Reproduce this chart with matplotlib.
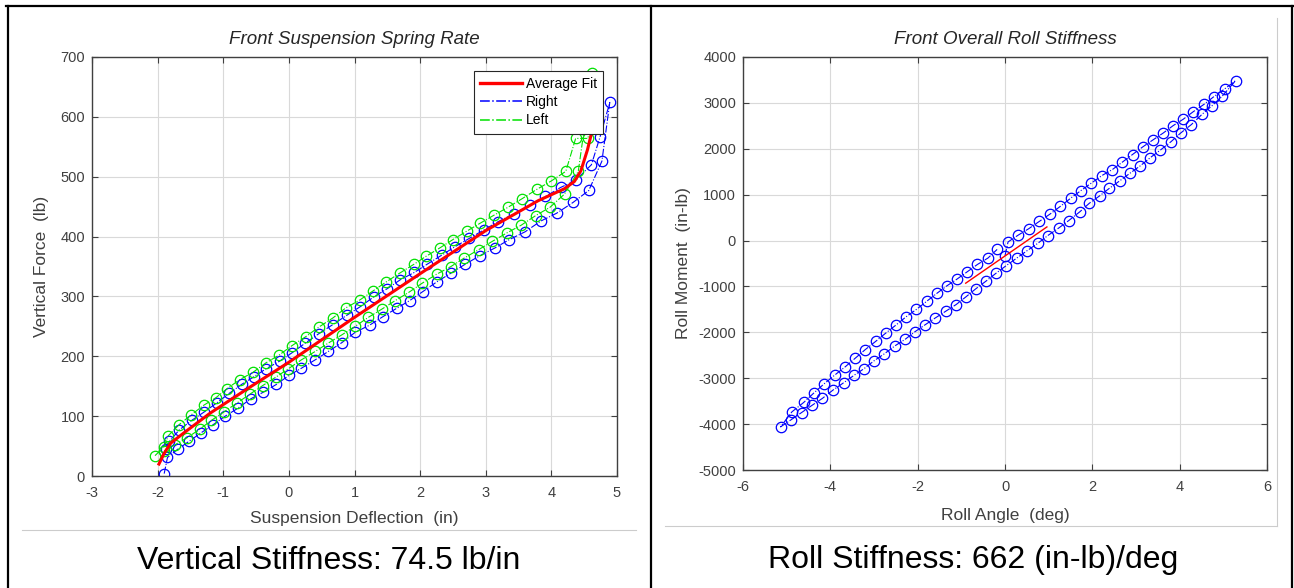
import matplotlib
matplotlib.use('Agg')
import matplotlib.pyplot as plt
from matplotlib.lines import Line2D

plt.rcParams['font.family'] = ['Liberation Sans', 'DejaVu Sans']
plt.rcParams['axes.unicode_minus'] = False

# ---- left chart: spring rate (hysteresis loops) ----
right_x = [-1.90, -1.85, -1.69, -1.52, -1.34, -1.15, -0.97, -0.78, -0.58, -0.39, -0.19, 0.00,
           0.19, 0.40, 0.60, 0.81, 1.01, 1.23, 1.43, 1.64, 1.84, 2.04, 2.25, 2.47, 2.69, 2.91,
           3.14, 3.36, 3.60, 3.84, 4.08, 4.33, 4.57, 4.77, 4.89,
           4.74, 4.61, 4.37, 4.14, 3.91, 3.67, 3.43, 3.19, 2.97, 2.75, 2.53, 2.33, 2.11, 1.91,
           1.70, 1.50, 1.29, 1.09, 0.89, 0.67, 0.46, 0.25, 0.05, -0.14, -0.35, -0.53, -0.72,
           -0.91, -1.10, -1.29, -1.48, -1.67, -1.82, -1.87]
right_y = [4, 31, 45, 58, 72, 86, 100, 113, 129, 140, 153, 168,
           180, 194, 208, 223, 240, 252, 266, 280, 293, 308, 324, 339, 354, 368,
           381, 395, 408, 426, 439, 457, 477, 526, 624,
           566, 520, 494, 482, 467, 452, 438, 425, 411, 397, 383, 369, 354, 340,
           328, 313, 299, 283, 269, 253, 238, 222, 206, 192, 179, 166, 153,
           138, 122, 107, 93, 77, 58, 45]

left_x = [-2.04, -1.90, -1.84, -1.67, -1.49, -1.30, -1.11, -0.94, -0.75, -0.55, -0.35, -0.15,
          0.05, 0.26, 0.46, 0.67, 0.87, 1.08, 1.28, 1.48, 1.69, 1.91, 2.09, 2.30, 2.50, 2.71,
          2.91, 3.13, 3.34, 3.55, 3.78, 4.00, 4.22, 4.37, 4.56, 4.62,
          4.41, 4.20, 3.98, 3.76, 3.54, 3.32, 3.10, 2.89, 2.67, 2.47, 2.25, 2.03, 1.83, 1.62,
          1.42, 1.21, 1.01, 0.81, 0.60, 0.40, 0.19, -0.01, -0.20, -0.40, -0.59, -0.79, -0.99,
          -1.18, -1.36, -1.55, -1.74, -1.90]
left_y = [34, 49, 67, 86, 102, 118, 131, 146, 161, 173, 189, 202,
          218, 233, 249, 264, 281, 294, 309, 324, 339, 354, 367, 381, 395, 409,
          422, 436, 449, 463, 479, 493, 509, 564, 564, 673,
          509, 471, 449, 435, 419, 406, 392, 378, 364, 350, 337, 322, 307, 293,
          279, 265, 250, 236, 222, 208, 194, 179, 165, 151, 137, 122, 107,
          93, 78, 64, 52, 42]

fit_x = [-1.98, -1.90, -1.80, -1.60, -1.20, -0.60, 0.00, 1.00, 2.00, 3.00, 3.80, 4.20, 4.35,
         4.45, 4.55, 4.65, 4.72]
fit_y = [20, 38, 55, 72, 105, 148, 190, 265, 338, 410, 460, 480, 492, 510, 545, 590, 625]

# ---- right chart: roll stiffness loop ----
roll_x = [0.00, 0.07, 0.30, 0.54, 0.79, 1.04, 1.27, 1.52, 1.74, 1.98, 2.22, 2.46, 2.69, 2.92,
          3.15, 3.39, 3.62, 3.85, 4.08, 4.31, 4.56, 4.78, 5.03, 5.28,
          4.97, 4.74, 4.51, 4.27, 4.02, 3.80, 3.56, 3.33, 3.10, 2.86, 2.63, 2.39, 2.17, 1.93,
          1.71, 1.46, 1.23, 0.98, 0.76, 0.51, 0.27, 0.03, -0.20, -0.44, -0.67, -0.90, -1.12,
          -1.36, -1.60, -1.83, -2.07, -2.29, -2.52, -2.76, -3.00, -3.23, -3.45, -3.69, -3.94,
          -4.18, -4.41, -4.66, -4.91, -5.14,
          -4.88, -4.61, -4.38, -4.14, -3.90, -3.66, -3.43, -3.20, -2.96, -2.73, -2.49, -2.27,
          -2.03, -1.79, -1.56, -1.33, -1.11, -0.87, -0.63, -0.39, -0.18]
roll_y = [-330, -30, 117, 256, 420, 583, 747, 935, 1090, 1254, 1417, 1548, 1711, 1875,
          2038, 2194, 2341, 2504, 2643, 2807, 2970, 3134, 3305, 3485,
          3142, 2937, 2749, 2529, 2341, 2153, 1973, 1809, 1630, 1466, 1303, 1139, 976, 812,
          624, 436, 273, 109, -54, -218, -381, -545, -708, -888, -1052, -1231, -1395,
          -1542, -1689, -1836, -1992, -2155, -2294, -2466, -2621, -2793, -2932, -3095, -3259,
          -3438, -3585, -3749, -3913, -4060,
          -3733, -3528, -3324, -3120, -2932, -2752, -2564, -2376, -2196, -2016, -1836, -1665,
          -1501, -1321, -1150, -986, -847, -684, -520, -381, -193]

roll_fit_x = [-0.90, 0.96]
roll_fit_y = [-929, 297]

left_xticks = [-3, -2, -1, 0, 1, 2, 3, 4, 5]
left_yticks = [0, 100, 200, 300, 400, 500, 600, 700]
right_xticks = [-6, -4, -2, 0, 2, 4, 6]
right_yticks = [-5000, -4000, -3000, -2000, -1000, 0, 1000, 2000, 3000, 4000]

W, H = 1294, 588
fig = plt.figure(figsize=(W / 100, H / 100), dpi=100)


def matlab_style(ax):
    for s in ax.spines.values():
        s.set_color('#404040')
        s.set_linewidth(1.0)
    ax.tick_params(direction='in', top=True, right=True, length=4, width=0.8,
                   colors='#404040', labelsize=10.5, pad=5)
    ax.tick_params(axis='x', pad=7)
    ax.grid(True, color='#d9d9d9', linewidth=0.8)
    ax.set_axisbelow(True)


def px_axes(x0, y0, x1, y1):
    return fig.add_axes([x0 / W, 1 - y1 / H, (x1 - x0) / W, (y1 - y0) / H])


# left axes
ax1 = px_axes(92, 57, 617, 476)
matlab_style(ax1)
ax1.plot(fit_x, fit_y, color='red', lw=2.2, label='Average Fit', zorder=3)
ax1.plot(right_x, right_y, '-.o', color='blue', lw=0.8, ms=7.5, mfc='none', mew=0.9,
         label='Right', zorder=2)
ax1.plot(left_x, left_y, '-.o', color='#00e000', lw=0.8, ms=7.5, mfc='none', mew=0.9,
         label='Left', zorder=2)
ax1.set_xlim(-3, 5)
ax1.set_ylim(0, 700)
ax1.set_xticks(left_xticks)
ax1.set_yticks(left_yticks)
ax1.set_title('Front Suspension Spring Rate', fontsize=13.5, style='italic', color='#262626', pad=9)
ax1.set_xlabel('Suspension Deflection  (in)', fontsize=12.5, color='#404040', labelpad=8)
ax1.set_ylabel('Vertical Force  (lb)', fontsize=12.5, color='#404040', labelpad=8)
h, l = ax1.get_legend_handles_labels()
h = [Line2D([], [], color='red', lw=2.4),
     Line2D([], [], color='blue', lw=1.1, ls='-.'),
     Line2D([], [], color='#00e000', lw=1.1, ls='-.')]
leg = ax1.legend(h, l, loc='upper right', fontsize=10, fancybox=False, framealpha=1,
                 edgecolor='#262626', borderaxespad=1.0, handlelength=3.0, handletextpad=0.3,
                 labelspacing=0.3, borderpad=0.45)
leg.get_frame().set_linewidth(0.8)
leg.set_zorder(5)

# right axes
ax2 = px_axes(743, 57, 1267, 470)
matlab_style(ax2)
ax2.plot(roll_x, roll_y, '-.o', color='blue', lw=0.8, ms=7.5, mfc='none', mew=0.9, zorder=2)
ax2.plot(roll_fit_x, roll_fit_y, color='red', lw=1.0, zorder=3)
ax2.set_xlim(-6, 6)
ax2.set_ylim(-5000, 4000)
ax2.set_xticks(right_xticks)
ax2.set_yticks(right_yticks)
ax2.set_title('Front Overall Roll Stiffness', fontsize=13.5, style='italic', color='#262626', pad=9)
ax2.set_xlabel('Roll Angle  (deg)', fontsize=12.5, color='#404040', labelpad=10)
ax2.set_ylabel('Roll Moment  (in-lb)', fontsize=12.5, color='#404040', labelpad=5)


# table borders and image frames (pixel coordinates)
def px_line(xs, ys, color, lw):
    fig.add_artist(Line2D([x / W for x in xs], [1 - y / H for y in ys],
                          color=color, lw=lw, transform=fig.transFigure))


px_line([7.5, 7.5], [6, 600], 'black', 1.6)
px_line([651, 651], [6, 600], 'black', 1.6)
px_line([1292, 1292], [6, 600], 'black', 1.6)
px_line([6, 1293], [6, 6], 'black', 1.6)
px_line([22, 636], [530, 530], '#cccccc', 0.8)
px_line([665, 1277], [526, 526], '#cccccc', 0.8)
px_line([1277, 1277], [18, 526], '#cccccc', 0.8)

fig.text(329 / W, 1 - 561 / H, 'Vertical Stiffness: 74.5 lb/in', fontsize=23,
         ha='center', va='center', color='black')
fig.text(973 / W, 1 - 560 / H, 'Roll Stiffness: 662 (in-lb)/deg', fontsize=23,
         ha='center', va='center', color='black')

fig.savefig('out.png', dpi=100)
